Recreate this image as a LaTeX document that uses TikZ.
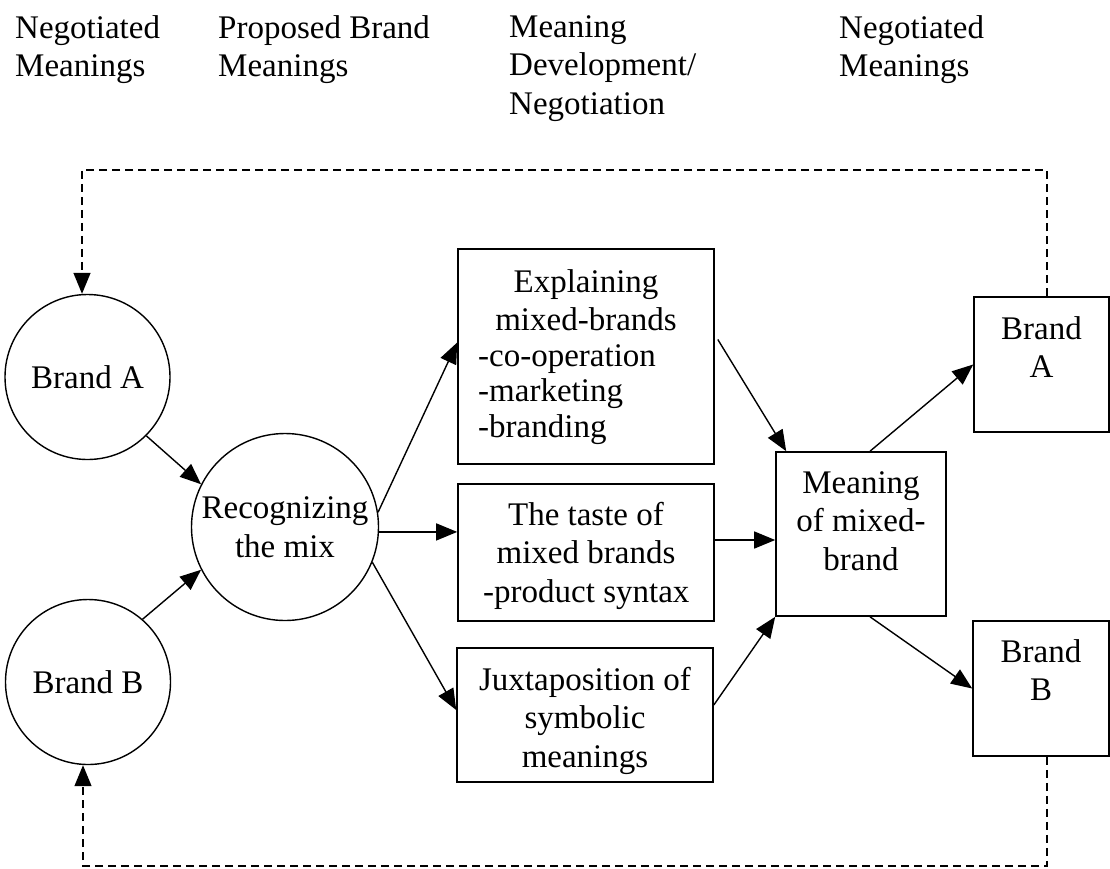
\documentclass[tikz,border=0pt]{standalone}
\usepackage{fontspec}
\setmainfont{Liberation Serif}
\usetikzlibrary{arrows.meta}
\begin{document}
\begin{tikzpicture}[x=1pt,y=-1pt,
  every node/.style={font=\fontsize{33}{38.5}\selectfont, inner sep=0pt},
  circ/.style={draw, circle, line width=1.4pt},
  boxnode/.style={draw, rectangle, line width=1.6pt},
  txt/.style={anchor=north, align=center},
  ltxt/.style={anchor=north west, align=left},
  arr/.style={line width=1.4pt, -{Triangle[length=21pt,width=17pt]}},
  dashline/.style={line width=1.4pt, dash pattern=on 8pt off 5pt}
]
\useasboundingbox (0,0) rectangle (1110,868);

% headers
\node[ltxt] (h1) at (15,15) {Negotiated\\Meanings};
\node[ltxt] (h2) at (218,15) {Proposed Brand\\Meanings};
\node[ltxt] (h3) at (509,15) {Meaning\\Development/\\Negotiation};
\node[ltxt] (h4) at (839,15) {Negotiated\\Meanings};

% circles
\node[circ, minimum size=165pt] (brandA) at (87.5,377) {Brand A};
\node[circ, minimum size=165pt] (brandB) at (88,682) {Brand B};
\node[circ, minimum size=187pt, align=center] (recog) at (285,527) {Recognizing\\the mix};

% boxes
\node[boxnode, minimum width=256pt, minimum height=215pt] (explain) at (586,356.5) {};
\node[boxnode, minimum width=256pt, minimum height=137pt] (taste) at (586,552.5) {};
\node[boxnode, minimum width=256pt, minimum height=134pt] (juxt) at (585,715) {};
\node[boxnode, minimum width=170pt, minimum height=164pt] (meaning) at (861,534) {};
\node[boxnode, minimum width=135pt, minimum height=135pt] (brandAbox) at (1041.5,364.5) {};
\node[boxnode, minimum width=136pt, minimum height=135pt] (brandBbox) at (1041,688.5) {};

% box texts
\node[txt] (explainT) at (586,269) {Explaining\\mixed-brands};
\node[ltxt, font=\fontsize{33}{35.5}\selectfont] (explainL) at (478,344) {-co-operation\\-marketing\\-branding};
\node[txt] (tasteT) at (586,502) {The taste of\\mixed brands};
\node[ltxt] (tasteL) at (483,579) {-product syntax};
\node[txt] (juxtT) at (585,667) {Juxtaposition of\\symbolic\\meanings};
\node[txt] (meaningT) at (861,471) {Meaning\\of mixed-\\brand};
\node[txt] (brandAT) at (1041.5,316) {Brand\\A};
\node[txt] (brandBT) at (1041,639) {Brand\\B};

% connectors
\draw[arr] (brandA.-45) -- (recog.153);
\draw[arr] (brandB.49) -- (recog.207);
\draw[arr] (recog.9) -- ([yshift=14pt]explain.west);
\draw[arr] (recog.-3) -- (recog.-3 -| taste.west);
\draw[arr] (recog.-22) -- ([yshift=5pt]juxt.west);
\draw[arr] ([xshift=3pt,yshift=17pt]explain.east) -- ([xshift=11pt]meaning.north west);
\draw[arr] ([yshift=12.5pt]taste.east) -- ([yshift=12.5pt]taste.east -| meaning.west);
\draw[arr] ([yshift=10pt]juxt.east) -- (meaning.south west);
\draw[arr] ([xshift=9pt]meaning.north) -- (brandAbox.west);
\draw[arr] ([xshift=9pt]meaning.south) -- (brandBbox.west);

% feedback loops
\coordinate (tr) at (1047,170);
\coordinate (tl) at (82,170);
\coordinate (br) at (1047,866);
\coordinate (bl) at (83,866);
\draw[dashline] (tr |- brandAbox.north) -- (tr) -- (tl) -- ([yshift=12pt]tl |- brandA.north);
\draw[arr] ([yshift=13pt]tl |- brandA.north) -- (tl |- brandA.north);
\draw[dashline] (br |- brandBbox.south) -- (br) -- (bl) -- ([yshift=-12pt]bl |- brandB.south);
\draw[arr] ([yshift=-13pt]bl |- brandB.south) -- (bl |- brandB.south);
\end{tikzpicture}
\end{document}
